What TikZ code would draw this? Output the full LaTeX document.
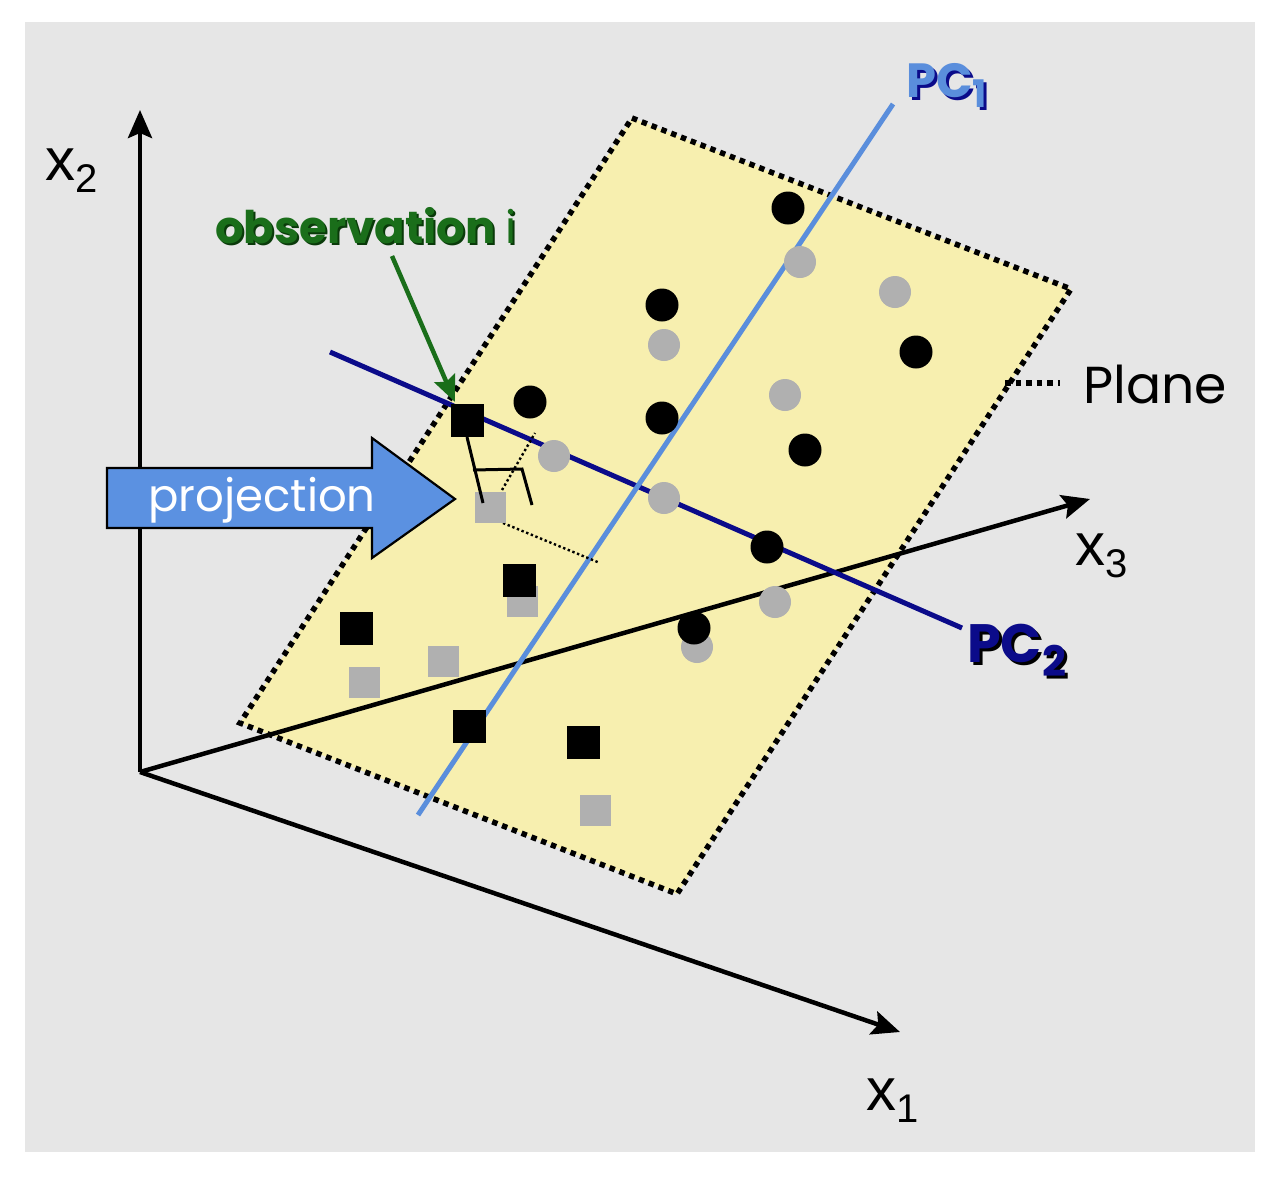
\documentclass[tikz,border=0pt]{standalone}
\usepackage{fontspec}
\setmainfont{Poppins}
\newfontfamily\axisfont{Liberation Sans}
\usetikzlibrary{arrows.meta}
\definecolor{bggrey}{HTML}{E6E6E6}
\definecolor{planeyellow}{HTML}{F7EFAF}
\definecolor{pcone}{HTML}{5A8EDC}
\definecolor{pctwo}{HTML}{0B0B8A}
\definecolor{obsgreen}{HTML}{1A6E1A}
\definecolor{obsshadow}{HTML}{0A3A0A}
\definecolor{ptgrey}{HTML}{B0B0B0}
\definecolor{projblue}{HTML}{5B91E1}

\newcommand{\axlabel}[2]{{\axisfont\fontsize{60}{60}\selectfont #1\raisebox{-12pt}{\fontsize{40}{40}\selectfont #2}}}

\begin{document}
\begin{tikzpicture}[x=1pt, y=-1pt,
  blackdot/.style={circle, fill=black, minimum size=33pt, inner sep=0pt},
  greydot/.style={circle, fill=ptgrey, minimum size=32pt, inner sep=0pt},
  blacksq/.style={rectangle, fill=black, minimum size=33pt, inner sep=0pt},
  greysq/.style={rectangle, fill=ptgrey, minimum size=31pt, inner sep=0pt},
  axisline/.style={line width=4.5pt, -{Stealth[length=28pt, width=24pt, inset=5pt]}},
  planeedge/.style={line width=5.5pt, dash pattern=on 5.5pt off 5pt},
  thindot/.style={line width=2.4pt, dash pattern=on 2.4pt off 2.6pt},
  lbl/.style={inner sep=0pt, anchor=base west},
]
  % page and grey card
  \useasboundingbox (0,0) rectangle (1280,1176);
  \fill[white] (0,0) rectangle (1280,1176);
  \fill[bggrey] (25,22) rectangle (1255,1152);

  % the plane
  \coordinate (pt) at (632,118);
  \coordinate (pr) at (1071,289);
  \coordinate (pb) at (677,894);
  \coordinate (pl) at (240,723);
  \fill[planeyellow] (pt) -- (pr) -- (pb) -- (pl) -- cycle;
  \draw[planeedge] (pt) -- (pr) -- (pb) -- (pl) -- cycle;

  % axes
  \coordinate (o) at (140,772);
  \coordinate (x2end) at (140,110);
  \coordinate (x3end) at (1090,499);
  \coordinate (x1end) at (900,1032);
  \draw[axisline] (o) -- (x2end);
  \draw[axisline] (o) -- (x3end);
  \draw[axisline] (o) -- (x1end);
  \node[lbl] (x2lbl) at (45,180) {\axlabel{x}{2}};
  \node[lbl] (x3lbl) at (1075,565) {\axlabel{x}{3}};
  \node[lbl] (x1lbl) at (866,1110) {\axlabel{x}{1}};

  % principal components
  \coordinate (pc2a) at (330,352);
  \coordinate (pc2b) at (962,628);
  \coordinate (pc1a) at (418,815);
  \coordinate (pc1b) at (893,104);
  \draw[pctwo, line width=5pt] (pc2a) -- (pc2b);
  \draw[pcone, line width=5pt] (pc1a) -- (pc1b);

  \node[lbl, text=pctwo] (pc1shadow) at (909,100)
    {\fontsize{48}{48}\selectfont\bfseries PC\raisebox{-10pt}{\fontsize{38}{38}\selectfont 1}};
  \node[lbl, text=pcone] (pc1lbl) at (906,97)
    {\fontsize{48}{48}\selectfont\bfseries PC\raisebox{-10pt}{\fontsize{38}{38}\selectfont 1}};
  \node[lbl, text=black] (pc2shadow) at (970,665)
    {\fontsize{54}{54}\selectfont\bfseries PC\raisebox{-14pt}{\fontsize{42}{42}\selectfont 2}};
  \node[lbl, text=pctwo] (pc2lbl) at (967,662)
    {\fontsize{54}{54}\selectfont\bfseries PC\raisebox{-14pt}{\fontsize{42}{42}\selectfont 2}};

  % projection of observation i
  \coordinate (dropa) at (467,437);
  \coordinate (dropb) at (483,503);
  \coordinate (rta) at (473,470);
  \coordinate (rtb) at (522,469);
  \coordinate (rtc) at (532,505);
  \coordinate (dota) at (502,490);
  \coordinate (dotb) at (535,433);
  \coordinate (dotc) at (503,523);
  \coordinate (dotd) at (600,563);
  \draw[thindot] (dota) -- (dotb);
  \draw[thindot] (dotc) -- (dotd);

  % points
  \node[greydot] (g1) at (800,262) {};
  \node[greydot] (g2) at (895,292) {};
  \node[greydot] (g3) at (664,345) {};
  \node[greydot] (g4) at (785,395) {};
  \node[greydot] (g5) at (554,456) {};
  \node[greydot] (g6) at (664,498) {};
  \node[greydot] (g7) at (775,602) {};
  \node[greydot] (g8) at (697,647) {};
  \node[blackdot] (k1) at (788,208) {};
  \node[blackdot] (k2) at (662,305) {};
  \node[blackdot] (k3) at (916,352) {};
  \node[blackdot] (k4) at (530,402) {};
  \node[blackdot] (k5) at (662,418) {};
  \node[blackdot] (k6) at (805,450) {};
  \node[blackdot] (k7) at (767,547) {};
  \node[blackdot] (k8) at (694,628) {};
  \node[greysq] (gs1) at (490,507) {};
  \node[greysq] (gs2) at (522,601) {};
  \node[greysq] (gs3) at (364,682) {};
  \node[greysq] (gs4) at (443,661) {};
  \node[greysq] (gs5) at (595,810) {};
  \node[blacksq] (obs) at (467,420) {};
  \node[blacksq] (ks2) at (519,580) {};
  \node[blacksq] (ks3) at (356,628) {};
  \node[blacksq] (ks4) at (469,726) {};
  \node[blacksq] (ks5) at (583,742) {};

  \draw[line width=3pt] (dropa) -- (dropb);
  \draw[line width=3pt] (rta) -- (rtb) -- (rtc);

  % observation label
  \node[lbl, text=obsshadow] (obsshadow) at (217,245)
    {\fontsize{45}{45}\selectfont\bfseries observation {\mdseries i}};
  \node[lbl, text=obsgreen] (obslbl) at (215,243)
    {\fontsize{45}{45}\selectfont\bfseries observation {\mdseries i}};
  \coordinate (obstail) at (392,256);
  \coordinate (obstip) at (455,402);
  \draw[obsgreen, line width=4.5pt, -{Stealth[length=26pt, width=22pt, inset=4pt]}] (obstail) -- (obstip);

  % projection arrow
  \draw[fill=projblue, line width=2.2pt] (107,468) -- (372,468) -- (372,438) -- (455,499)
    -- (372,558) -- (372,528) -- (107,528) -- cycle;
  \node[text=white] (projlbl) at (262,500) {\fontsize{45}{45}\selectfont projection};

  % plane legend
  \coordinate (lega) at (1005,383);
  \coordinate (legb) at (1060,383);
  \draw[planeedge] (lega) -- (legb);
  \node[lbl] (planelbl) at (1083,403) {\fontsize{52}{52}\selectfont Plane};
\end{tikzpicture}
\end{document}
